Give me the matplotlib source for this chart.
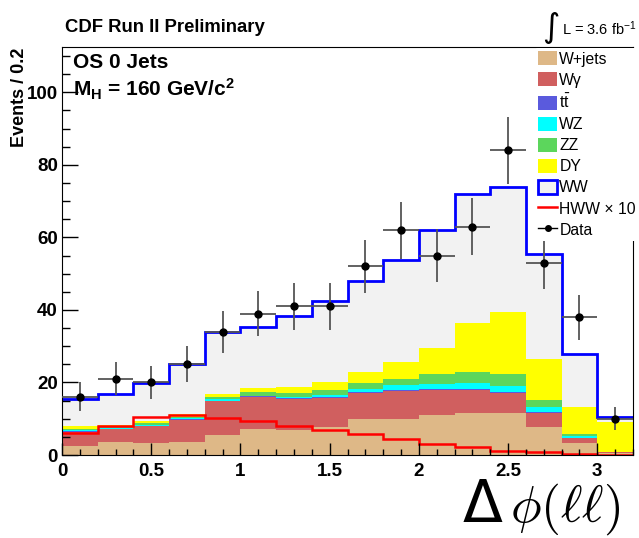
import numpy as np
import matplotlib
matplotlib.use("Agg")
import matplotlib.pyplot as plt
from matplotlib.patches import Patch
from matplotlib.lines import Line2D
from matplotlib.ticker import MultipleLocator

plt.rcParams['font.family'] = ['Liberation Sans', 'DejaVu Sans']
plt.rcParams['mathtext.fontset'] = 'custom'
plt.rcParams['mathtext.rm'] = 'Liberation Sans'
plt.rcParams['mathtext.bf'] = 'Liberation Sans:bold'
plt.rcParams['mathtext.it'] = 'Liberation Sans:italic'

# bins in delta phi (width 0.2)
bin_edges = [0.0, 0.2, 0.4, 0.6, 0.8, 1.0, 1.2, 1.4, 1.6, 1.8, 2.0, 2.2, 2.4, 2.6, 2.8, 3.0, 3.2]

# backgrounds (stacked, bottom first)
wjets  = [2.5, 3.6, 3.2, 3.5, 5.5, 7.1, 6.8, 7.8, 9.8, 9.8, 11.0, 11.5, 11.5, 7.8, 3.4, 0.6]
wgamma = [3.9, 3.6, 4.8, 6.2, 9.3, 9.0, 8.6, 8.0, 7.3, 7.8, 6.9, 6.4, 5.6, 3.9, 1.2, 0.3]
ttbar  = [0.1, 0.1, 0.1, 0.1, 0.2, 0.1, 0.2, 0.2, 0.2, 0.2, 0.2, 0.2, 0.2, 0.2, 0.1, 0.0]
wz     = [0.4, 0.2, 0.3, 0.5, 0.4, 0.2, 0.5, 0.6, 0.9, 1.4, 1.6, 1.8, 1.7, 1.2, 0.6, 0.0]
zz     = [0.4, 0.3, 0.3, 0.3, 0.5, 1.0, 1.1, 1.3, 1.7, 1.8, 2.6, 3.0, 3.3, 2.1, 0.5, 0.0]
dy     = [0.7, 0.6, 0.7, 0.7, 1.0, 1.0, 1.5, 2.2, 3.0, 4.7, 7.3, 13.4, 17.0, 11.4, 7.5, 8.3]
ww     = [7.5, 8.4, 10.4, 13.7, 17.1, 16.8, 19.5, 22.3, 25.0, 28.1, 32.5, 35.7, 34.7, 28.8, 14.5, 1.4]

# signal x10 and data
hww_x10 = [6.2, 7.9, 10.5, 11.1, 10.3, 9.3, 8.0, 6.9, 5.9, 4.3, 3.0, 2.2, 1.1, 0.9, 0.2, 0.1]
data    = [16, 21, 20, 25, 34, 39, 41, 41, 52, 62, 55, 63, 84, 53, 38, 10]

names  = ["W+jets", "W\u03b3", r"t$\bar{\rm t}$", "WZ", "ZZ", "DY"]
colors = ["#deb887", "#d05f5f", "#5a5add", "#00ffff", "#5cd65c", "#ffff00"]

edges = np.array(bin_edges)
centers = 0.5 * (edges[:-1] + edges[1:])

fig = plt.figure(figsize=(6.39, 5.38), dpi=100)
ax = fig.add_axes([62/639, 83/538, 571/639, 408/538])

# stacked histograms
bottom = np.zeros(len(data))
for vals, col in zip([wjets, wgamma, ttbar, wz, zz, dy], colors):
    top = bottom + np.array(vals)
    ax.stairs(top, edges, baseline=bottom, fill=True, color=col, lw=0)
    bottom = top
top = bottom + np.array(ww)
ax.stairs(top, edges, baseline=bottom, fill=True, color="#f2f2f2", lw=0)
ax.stairs(top, edges, baseline=None, color="blue", lw=2)

ax.stairs(hww_x10, edges, baseline=None, color="red", lw=1.8)

d = np.array(data, dtype=float)
ax.errorbar(centers, d, yerr=np.sqrt(d), xerr=0.1, fmt="o", color="black",
            ecolor="#555555", ms=5, elinewidth=1.3, capsize=0, zorder=5)

ax.set_xlim(0, 3.2)
ax.set_ylim(0, 112.5)
ax.xaxis.set_major_locator(MultipleLocator(0.5))
ax.xaxis.set_minor_locator(MultipleLocator(0.1))
ax.yaxis.set_major_locator(MultipleLocator(20))
ax.yaxis.set_minor_locator(MultipleLocator(5))
ax.set_xticks([0, 0.5, 1, 1.5, 2, 2.5, 3])
ax.set_xticklabels(["0", "0.5", "1", "1.5", "2", "2.5", "3"])
ax.tick_params(axis="x", which="major", direction="in", length=9, width=1, labelsize=13.5, pad=6)
ax.tick_params(axis="x", which="minor", direction="in", length=4.5, width=1)
ax.tick_params(axis="y", which="major", direction="in", length=11.5, width=1, labelsize=13.5, pad=3)
ax.tick_params(axis="y", which="minor", direction="in", length=6, width=1)
for lab in ax.get_xticklabels() + ax.get_yticklabels():
    lab.set_fontweight("bold")

fig.text(20/639, 1 - 48/538, "Events / 0.2", rotation=90, ha="center", va="top",
         fontweight="bold", fontsize=13)

fig.text(65/639, 1 - 28/538, "CDF Run II Preliminary", ha="left", va="center",
         fontweight="bold", fontsize=13.3)
fig.text(73/639, 1 - 63/538, "OS 0 Jets", ha="left", va="center",
         fontweight="bold", fontsize=15)
fig.text(73/639, 1 - 96/538, r"M$_{\mathbf{H}}$ = 160 GeV/c$^{\mathbf{2}}$", ha="left",
         va="baseline", fontweight="bold", fontsize=15)

fig.text(551/639, 1 - 27/538, "\u222b", ha="center", va="center", fontsize=24,
         family="DejaVu Sans")
fig.text(562/639, 1 - 35/538, r"L = 3.6 fb$^{-1}$", ha="left", va="baseline", fontsize=10.5)

# x axis label
fig.text(482/639, 1 - 522/538, "\u0394", ha="center", va="baseline", fontweight="normal",
         fontsize=42, family="DejaVu Sans")
fig.text(510/639, 1 - 522/538, r"$\phi(\ell\ell)$", ha="left", va="baseline",
         fontsize=37, math_fontfamily="cm")

handles = [Patch(facecolor=c, edgecolor="none") for c in colors]
handles.append(Patch(facecolor="#f2f2f2", edgecolor="blue", lw=2))
handles.append(Line2D([], [], color="red", lw=1.8))
handles.append(Line2D([], [], color="black", lw=1, marker="o", ms=4))
labels = names + ["WW", "HWW \u00d7 10", "Data"]
fig.legend(handles, labels, loc="upper left", bbox_to_anchor=(535/639, 1 - 48/538),
           frameon=True, facecolor="white", edgecolor="none", framealpha=1,
           fontsize=11.3, handlelength=1.2, handleheight=1.0, handletextpad=0.15,
           labelspacing=0.36, borderpad=0.2, borderaxespad=0)

fig.savefig("out.png", dpi=100)
